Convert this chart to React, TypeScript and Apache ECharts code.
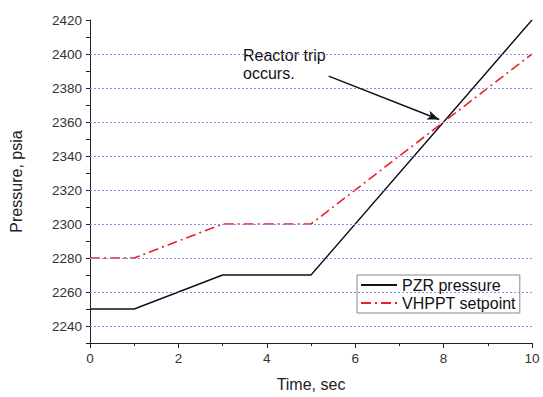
import React, { useEffect, useRef } from "react";
import * as echarts from "echarts";

const timeSec = [0, 1, 3, 5, 10];
const pzrPressure = [2250, 2250, 2270, 2270, 2420];
const vhpptSetpoint = [2280, 2280, 2300, 2300, 2400];
const gridValues = [2240, 2260, 2280, 2300, 2320, 2340, 2360, 2380, 2400];
const arrowFrom = [5.4, 2387];
const arrowTo = [7.9, 2361.5];

const FONT = "Liberation Sans, Arial, sans-serif";

export default function App() {
  const ref = useRef<HTMLDivElement>(null);
  useEffect(() => {
    if (!ref.current) return;
    const chart = echarts.init(ref.current, null, { renderer: "svg" });
    chart.setOption({
      animation: false,
      backgroundColor: "#ffffff",
      grid: { left: 88, right: 11, top: 20, bottom: 48, containLabel: false },
      xAxis: {
        type: "value",
        min: 0,
        max: 10,
        interval: 2,
        name: "Time, sec",
        nameLocation: "middle",
        nameGap: 33,
        nameTextStyle: { fontFamily: FONT, fontSize: 16, color: "#222" },
        axisLine: { show: true, lineStyle: { color: "#222", width: 1 } },
        axisTick: { show: true, inside: false, length: 5, lineStyle: { color: "#222" } },
        minorTick: { show: true, splitNumber: 2, length: 3, lineStyle: { color: "#222" } },
        axisLabel: { fontFamily: FONT, fontSize: 13.5, color: "#333", margin: 8 },
        splitLine: { show: false },
      },
      yAxis: {
        type: "value",
        min: 2230,
        max: 2420,
        interval: 10,
        name: "Pressure, psia",
        nameLocation: "middle",
        nameGap: 66,
        nameRotate: 90,
        nameTextStyle: { fontFamily: FONT, fontSize: 16, color: "#222" },
        axisLine: { show: true, lineStyle: { color: "#222", width: 1 } },
        axisTick: { show: true, length: 4, lineStyle: { color: "#222" } },
        axisLabel: {
          fontFamily: FONT,
          fontSize: 13.5,
          color: "#333",
          margin: 8,
          formatter: (v: number) => (v % 20 === 0 ? String(v) : ""),
        },
        splitLine: { show: false },
      },
      legend: {
        orient: "vertical",
        left: 357,
        top: 275,
        padding: [2, 4, 2, 3],
        itemGap: 2,
        itemWidth: 36,
        itemHeight: 16,
        borderColor: "#888",
        borderWidth: 1,
        backgroundColor: "#fff",
        itemStyle: { opacity: 0 },
        textStyle: { fontFamily: FONT, fontSize: 16, color: "#111" },
        data: ["PZR pressure", "VHPPT setpoint"],
      },
      series: [
        {
          name: "grid",
          type: "line",
          data: [],
          markLine: {
            silent: true,
            symbol: ["none", "none"],
            label: { show: false },
            lineStyle: { color: "#8c8cf0", type: [2, 2], width: 1 },
            data: gridValues.map((v) => ({ yAxis: v })),
          },
        },
        {
          name: "PZR pressure",
          type: "line",
          symbol: "none",
          color: "#111",
          lineStyle: { color: "#111", width: 1.4 },
          data: timeSec.map((t, i) => [t, pzrPressure[i]]),
          z: 3,
        },
        {
          name: "VHPPT setpoint",
          type: "line",
          symbol: "none",
          color: "#e8202a",
          lineStyle: { color: "#e8202a", width: 1.6, type: [10, 4, 2, 4] },
          data: timeSec.map((t, i) => [t, vhpptSetpoint[i]]),
          z: 3,
          markLine: {
            silent: true,
            symbol: ["none", "arrow"],
            symbolSize: [7, 12],
            label: { show: false },
            lineStyle: { color: "#111", type: "solid", width: 1.5 },
            data: [[{ coord: arrowFrom }, { coord: arrowTo }]],
          },
        },
      ],
      graphic: [
        {
          type: "text",
          left: 243,
          top: 46,
          style: {
            text: "Reactor trip\noccurs.",
            fontFamily: FONT,
            fontSize: 16,
            lineHeight: 18,
            fill: "#111",
          },
        },
      ],
    });
    return () => chart.dispose();
  }, []);
  return <div ref={ref} style={{ width: 543, height: 397, position: "absolute", left: 0, top: 0 }} />;
}
